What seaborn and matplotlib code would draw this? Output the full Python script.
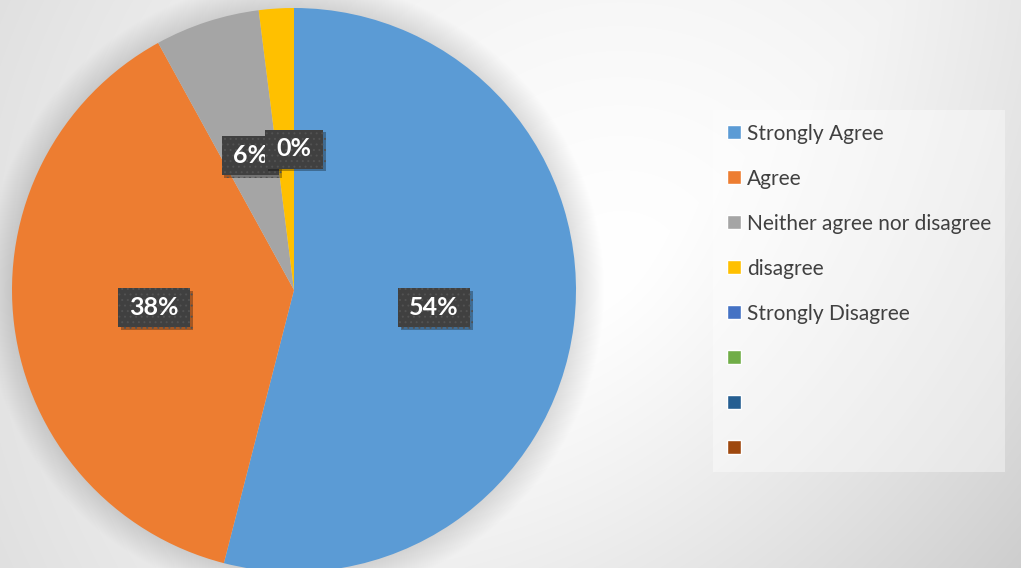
import numpy as np
import matplotlib
matplotlib.use("Agg")
import matplotlib.pyplot as plt
import matplotlib.patches as mpatches
import matplotlib.patheffects as pe
from matplotlib.path import Path
import seaborn as sns

# Survey answers (respondents, n = 50)
categories = ["Strongly Agree", "Agree", "Neither agree nor disagree",
              "disagree", "Strongly Disagree", "", "", ""]
responses = [27, 19, 3, 1, 0]
slice_colors = ["#5B9BD5", "#ED7D31", "#A5A5A5", "#FFC000",
                "#4472C4", "#70AD47", "#255E91", "#9E480E"]

sns.set_theme(style="white")
plt.rcParams["font.family"] = ["Lato", "DejaVu Sans"]
plt.rcParams["hatch.linewidth"] = 0.7
palette = sns.color_palette(slice_colors)

W, H = 1021, 568
fig = plt.figure(figsize=(W / 100, H / 100), dpi=100)

# soft grey gradient backdrop
bg = fig.add_axes([0, 0, 1, 1], zorder=-10)
yy, xx = np.mgrid[0:H, 0:W]
rr = np.hypot(xx - 620, yy - 280) / 680
shade = (1 - 0.12 * np.clip(rr, 0, 1.3) ** 1.5
         - 0.12 * np.clip((xx + yy - 900) / 689, 0, 1))
shade = np.clip(shade, 0, 1)
bg.imshow(np.dstack([shade] * 3), aspect="auto", extent=(0, 1, 0, 1))
bg.set_axis_off()

# pie axes: square box
R = 282
cx, cy = 294, 290
ax = fig.add_axes([(cx - R) / W, (H - cy - R) / H, 2 * R / W, 2 * R / H])

# faint halo under the pie
n_rings = 30
for i in range(n_rings):
    ax.add_patch(mpatches.Circle((0, 0), 1 + 0.1 * (i + 1) / n_rings,
                                 facecolor="black", alpha=0.004, lw=0,
                                 zorder=0.5, clip_on=False))

wedges, texts, autotexts = ax.pie(
    responses, colors=palette[:len(responses)], startangle=90, counterclock=False,
    autopct=lambda p: f"{p:.0f}%", pctdistance=0.5,
    wedgeprops=dict(linewidth=0),
    textprops=dict(color="white", fontsize=18, fontweight="bold"),
)
for w in wedges:
    w.set_clip_on(False)
ax.set_xlim(-1, 1)
ax.set_ylim(-1, 1)
ax.set_axis_off()


def label_box(x0, y0, width, height, mutation_size):
    """Rectangle with wider side padding than top/bottom padding."""
    px, py = 0.45 * mutation_size, 0.32 * mutation_size
    return Path([(x0 - px, y0 - py), (x0 + width + px, y0 - py),
                 (x0 + width + px, y0 + height + py), (x0 - px, y0 + height + py),
                 (x0 - px, y0 - py)], closed=True)


order_z = [5, 5, 5, 4, 6]
for t, z in zip(autotexts, order_z):
    t.set_bbox(dict(boxstyle=label_box, facecolor="#404040",
                    edgecolor="#525252", linewidth=0, hatch="..."))
    t.set_zorder(z)
    t.set_clip_on(False)
    t.get_bbox_patch().set_path_effects(
        [pe.SimplePatchShadow(offset=(2, -2), shadow_rgbFace="black", alpha=0.3),
         pe.Normal()])
# the 2 % label sits fully underneath its neighbours
autotexts[3].set_visible(False)

handles = [mpatches.Patch(facecolor=c, label=l) for c, l in zip(palette, categories)]
leg = fig.legend(handles, categories, loc="upper left",
                 bbox_to_anchor=(713 / W, 1 - 110 / H),
                 fontsize=15, handlelength=0.67, handleheight=0.67,
                 handletextpad=0.3, labelspacing=1.2, borderpad=0.65,
                 borderaxespad=0, frameon=True, fancybox=False,
                 facecolor="white", framealpha=0.4, edgecolor="none",
                 labelcolor="#404040")

fig.savefig("out.png", dpi=100)
